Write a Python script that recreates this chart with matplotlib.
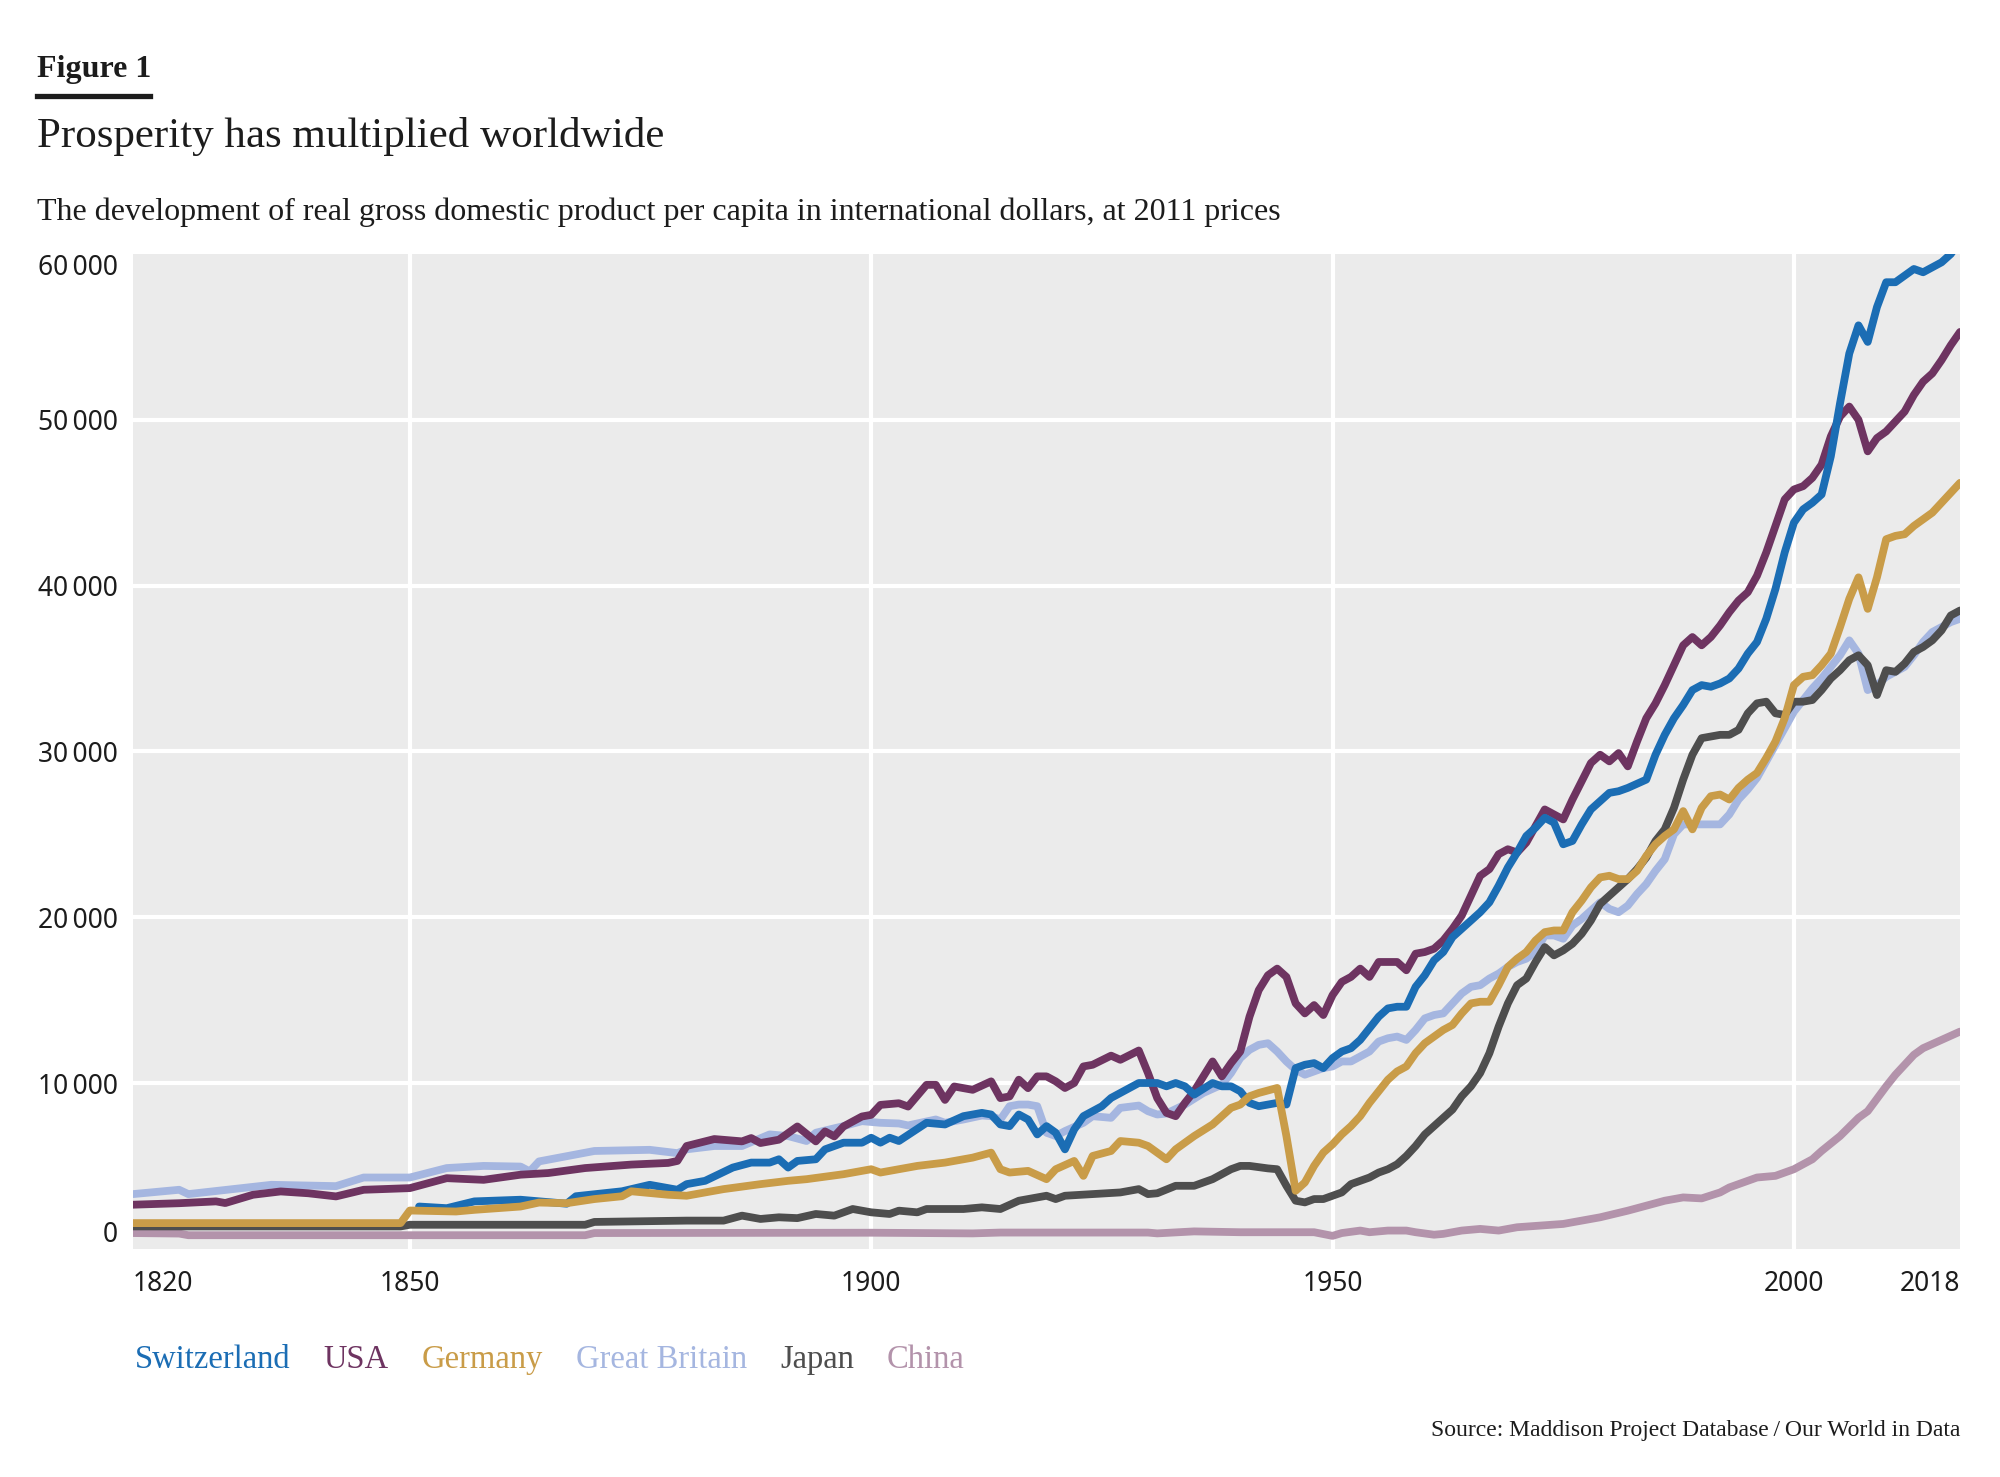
import matplotlib
matplotlib.use("Agg")
import matplotlib.pyplot as plt
from matplotlib.lines import Line2D

# GDP per capita, international dollars at 2011 prices
years_switzerland = [1851, 1854, 1857, 1862, 1867, 1868, 1873, 1876, 1879, 1880, 1882, 1885, 1887, 1889, 1890,
                     1891, 1892, 1894, 1895, 1897, 1899, 1900, 1901, 1902, 1903, 1906, 1908, 1910, 1912, 1913,
                     1914, 1915, 1916, 1917, 1918, 1919, 1920, 1921, 1922, 1923, 1925, 1926, 1928, 1929, 1931,
                     1932, 1933, 1934, 1935, 1937, 1938, 1939, 1940, 1941, 1942, 1944, 1945, 1946, 1947, 1948,
                     1949, 1950, 1951, 1952, 1953, 1954, 1955, 1956, 1957, 1958, 1959, 1960, 1961, 1962, 1963,
                     1964, 1965, 1966, 1967, 1968, 1969, 1970, 1971, 1972, 1973, 1974, 1975, 1976, 1977, 1978,
                     1980, 1981, 1982, 1984, 1985, 1986, 1987, 1988, 1989, 1990, 1991, 1992, 1993, 1994, 1995,
                     1996, 1997, 1998, 1999, 2000, 2001, 2002, 2003, 2004, 2005, 2006, 2007, 2008, 2009, 2010,
                     2011, 2012, 2013, 2014, 2015, 2016, 2017, 2018]
gdp_switzerland = [2550, 2450, 2860, 2960, 2720, 3170, 3470, 3860, 3560, 3900, 4100, 4900, 5200, 5200, 5400,
                   4900, 5300, 5400, 6000, 6400, 6400, 6700, 6400, 6700, 6500, 7600, 7500, 8000, 8200, 8100,
                   7500, 7400, 8100, 7800, 6900, 7400, 7000, 6000, 7200, 8000, 8600, 9100, 9700, 10000, 10000,
                   9800, 10000, 9800, 9300, 10000, 9800, 9800, 9500, 8800, 8600, 8800, 8700, 10900, 11100, 11200,
                   10900, 11500, 11900, 12100, 12600, 13300, 14000, 14500, 14600, 14600, 15800, 16500, 17400, 17900, 18800,
                   19300, 19800, 20300, 20900, 21900, 23000, 23900, 24900, 25400, 26000, 25700, 24400, 24600, 25600, 26500,
                   27500, 27600, 27800, 28300, 29800, 31000, 32000, 32800, 33700, 34000, 33900, 34100, 34400, 35000, 35900,
                   36600, 38000, 39800, 42000, 43800, 44600, 45000, 45500, 47800, 51000, 54000, 55700, 54700, 56800, 58300,
                   58300, 58700, 59100, 58900, 59200, 59500, 60000, 60800]

years_usa = [1820, 1825, 1829, 1830, 1833, 1836, 1839, 1842, 1845, 1850, 1854, 1858, 1862, 1865, 1869,
             1874, 1878, 1879, 1880, 1883, 1886, 1887, 1888, 1890, 1892, 1894, 1895, 1896, 1897, 1899,
             1900, 1901, 1903, 1904, 1906, 1907, 1908, 1909, 1911, 1913, 1914, 1915, 1916, 1917, 1918,
             1919, 1920, 1921, 1922, 1923, 1924, 1926, 1927, 1929, 1930, 1931, 1932, 1933, 1934, 1935,
             1936, 1937, 1938, 1939, 1940, 1941, 1942, 1943, 1944, 1945, 1946, 1947, 1948, 1949, 1950,
             1951, 1952, 1953, 1954, 1955, 1956, 1957, 1958, 1959, 1960, 1961, 1962, 1963, 1964, 1965,
             1966, 1967, 1968, 1969, 1970, 1971, 1972, 1973, 1974, 1975, 1976, 1977, 1978, 1979, 1980,
             1981, 1982, 1983, 1984, 1985, 1986, 1987, 1988, 1989, 1990, 1991, 1992, 1993, 1994, 1995,
             1996, 1997, 1998, 1999, 2000, 2001, 2002, 2003, 2004, 2005, 2006, 2007, 2008, 2009, 2010,
             2011, 2012, 2013, 2014, 2015, 2016, 2017, 2018]
gdp_usa = [2660, 2750, 2860, 2760, 3260, 3460, 3350, 3160, 3560, 3660, 4260, 4160, 4470, 4570, 4870,
           5080, 5180, 5300, 6200, 6620, 6480, 6680, 6380, 6580, 7380, 6480, 7080, 6780, 7380, 7980,
           8080, 8680, 8780, 8580, 9890, 9890, 8980, 9790, 9590, 10100, 9090, 9190, 10200, 9690, 10400,
           10400, 10100, 9700, 10000, 11000, 11100, 11650, 11400, 11960, 10600, 9090, 8200, 8000, 8800, 9500,
           10400, 11300, 10400, 11200, 11900, 14000, 15600, 16500, 16900, 16400, 14800, 14200, 14700, 14100, 15300,
           16100, 16400, 16900, 16400, 17300, 17300, 17300, 16800, 17800, 17900, 18100, 18600, 19300, 20100, 21300,
           22500, 22900, 23800, 24100, 23900, 24500, 25500, 26500, 26200, 25900, 27100, 28200, 29300, 29800, 29400,
           29900, 29100, 30600, 32000, 32900, 34000, 35200, 36400, 36900, 36400, 36900, 37600, 38400, 39100, 39600,
           40600, 42000, 43600, 45200, 45800, 46000, 46500, 47300, 49000, 50200, 50800, 50000, 48100, 48900, 49300,
           49900, 50500, 51500, 52300, 52800, 53600, 54500, 55300]

years_germany = [1820, 1849, 1850, 1855, 1857, 1862, 1864, 1867, 1870, 1873, 1874, 1878, 1880, 1884, 1888,
                 1891, 1893, 1897, 1900, 1901, 1903, 1905, 1908, 1911, 1913, 1914, 1915, 1917, 1919, 1920,
                 1922, 1923, 1924, 1926, 1927, 1929, 1930, 1932, 1933, 1935, 1937, 1939, 1940, 1941, 1942,
                 1944, 1945, 1946, 1947, 1948, 1949, 1950, 1951, 1952, 1953, 1954, 1955, 1956, 1957, 1958,
                 1959, 1960, 1961, 1962, 1963, 1964, 1965, 1966, 1967, 1968, 1969, 1970, 1971, 1972, 1973,
                 1974, 1975, 1976, 1977, 1978, 1979, 1980, 1981, 1982, 1983, 1984, 1985, 1986, 1987, 1988,
                 1989, 1990, 1991, 1992, 1993, 1994, 1995, 1996, 1997, 1998, 1999, 2000, 2001, 2002, 2003,
                 2004, 2005, 2006, 2007, 2008, 2009, 2010, 2011, 2012, 2013, 2014, 2015, 2016, 2017, 2018]
gdp_germany = [1550, 1550, 2310, 2250, 2350, 2550, 2790, 2750, 3000, 3170, 3470, 3260, 3200, 3600, 3900,
               4100, 4200, 4500, 4800, 4600, 4800, 5000, 5200, 5500, 5800, 4800, 4600, 4700, 4200, 4800,
               5300, 4400, 5600, 5900, 6500, 6400, 6200, 5400, 6000, 6800, 7500, 8500, 8700, 9200, 9400,
               9700, 6800, 3500, 4000, 5000, 5800, 6300, 6900, 7400, 8000, 8800, 9500, 10200, 10700, 11000,
               11800, 12400, 12800, 13200, 13500, 14200, 14800, 14900, 14900, 15900, 17000, 17500, 17900, 18600, 19100,
               19200, 19200, 20300, 21000, 21800, 22400, 22500, 22300, 22300, 22800, 23700, 24400, 24900, 25300, 26400,
               25300, 26600, 27300, 27400, 27100, 27800, 28300, 28700, 29600, 30600, 32000, 34000, 34500, 34600, 35200,
               35900, 37500, 39200, 40500, 38600, 40500, 42800, 43000, 43100, 43600, 44000, 44400, 45000, 45600, 46200]

years_britain = [1820, 1825, 1826, 1835, 1842, 1845, 1850, 1854, 1858, 1862, 1863, 1864, 1870, 1876, 1879,
                 1880, 1883, 1886, 1889, 1891, 1893, 1894, 1897, 1899, 1901, 1903, 1904, 1907, 1908, 1910,
                 1912, 1913, 1914, 1915, 1916, 1917, 1918, 1919, 1920, 1921, 1923, 1924, 1926, 1927, 1929,
                 1930, 1931, 1932, 1934, 1936, 1938, 1939, 1940, 1941, 1942, 1943, 1944, 1945, 1946, 1947,
                 1948, 1949, 1950, 1951, 1952, 1953, 1954, 1955, 1956, 1957, 1958, 1959, 1960, 1961, 1962,
                 1963, 1964, 1965, 1966, 1967, 1968, 1969, 1970, 1971, 1972, 1973, 1974, 1975, 1976, 1977,
                 1978, 1979, 1980, 1981, 1982, 1983, 1984, 1985, 1986, 1987, 1988, 1989, 1990, 1991, 1992,
                 1993, 1994, 1995, 1996, 1997, 1998, 1999, 2000, 2001, 2002, 2003, 2004, 2005, 2006, 2007,
                 2008, 2009, 2010, 2011, 2012, 2013, 2014, 2015, 2016, 2017, 2018]
gdp_britain = [3300, 3560, 3300, 3860, 3780, 4300, 4300, 4870, 5000, 4960, 4670, 5270, 5900, 5970, 5770,
               6000, 6200, 6200, 6900, 6800, 6500, 7000, 7400, 7700, 7600, 7560, 7440, 7800, 7600, 7800,
               8040, 8000, 7800, 8600, 8700, 8700, 8600, 7000, 6800, 7100, 7600, 8000, 7900, 8500, 8640,
               8300, 8100, 8160, 8700, 9400, 9900, 10600, 11500, 12000, 12300, 12400, 11900, 11300, 10800, 10500,
               10700, 10900, 11000, 11300, 11300, 11600, 11900, 12500, 12700, 12800, 12600, 13200, 13900, 14100, 14200,
               14800, 15400, 15800, 15900, 16300, 16600, 17000, 17300, 17500, 17900, 18900, 18900, 18700, 19500, 19900,
               20400, 20900, 20500, 20300, 20700, 21400, 22000, 22800, 23500, 25000, 25600, 25600, 25600, 25600, 25600,
               26200, 27100, 27700, 28400, 29400, 30400, 31400, 32400, 33100, 33800, 34400, 35100, 35800, 36700, 35900,
               33700, 34000, 34500, 34800, 35100, 35800, 36600, 37200, 37500, 37800, 38000]

years_japan = [1820, 1849, 1850, 1869, 1870, 1880, 1884, 1886, 1888, 1890, 1892, 1894, 1896, 1898, 1900,
               1902, 1903, 1905, 1906, 1910, 1912, 1914, 1916, 1918, 1919, 1920, 1921, 1924, 1927, 1929,
               1930, 1931, 1933, 1935, 1937, 1939, 1940, 1941, 1943, 1944, 1945, 1946, 1947, 1948, 1949,
               1950, 1951, 1952, 1953, 1954, 1955, 1956, 1957, 1958, 1959, 1960, 1961, 1962, 1963, 1964,
               1965, 1966, 1967, 1968, 1969, 1970, 1971, 1972, 1973, 1974, 1975, 1976, 1977, 1978, 1979,
               1980, 1981, 1982, 1983, 1984, 1985, 1986, 1987, 1988, 1989, 1990, 1991, 1992, 1993, 1994,
               1995, 1996, 1997, 1998, 1999, 2000, 2001, 2002, 2003, 2004, 2005, 2006, 2007, 2008, 2009,
               2010, 2011, 2012, 2013, 2014, 2015, 2016, 2017, 2018]
gdp_japan = [1350, 1350, 1450, 1450, 1620, 1700, 1700, 2000, 1800, 1900, 1850, 2100, 2000, 2400, 2200,
             2100, 2300, 2200, 2400, 2400, 2500, 2400, 2900, 3100, 3200, 3000, 3200, 3300, 3400, 3600,
             3300, 3350, 3800, 3800, 4200, 4800, 5000, 5000, 4850, 4800, 3800, 2900, 2800, 3000, 3000,
             3200, 3400, 3900, 4100, 4300, 4600, 4800, 5100, 5600, 6200, 6900, 7400, 7900, 8400, 9200,
             9800, 10600, 11800, 13400, 14800, 15900, 16300, 17300, 18200, 17700, 18000, 18400, 19000, 19800, 20800,
             21300, 21800, 22300, 22900, 23600, 24600, 25300, 26600, 28300, 29800, 30800, 30900, 31000, 31000, 31300,
             32300, 32900, 33000, 32300, 32200, 33000, 33000, 33100, 33700, 34400, 34900, 35500, 35800, 35200, 33400,
             34900, 34800, 35300, 36000, 36300, 36700, 37300, 38200, 38500]

years_china = [1820, 1825, 1826, 1869, 1870, 1900, 1911, 1914, 1930, 1931, 1935, 1940, 1948, 1950, 1951,
               1953, 1954, 1956, 1958, 1959, 1961, 1962, 1964, 1966, 1968, 1970, 1975, 1979, 1982, 1986,
               1988, 1990, 1992, 1993, 1995, 1996, 1998, 2000, 2002, 2003, 2005, 2007, 2008, 2010, 2011,
               2013, 2014, 2016, 2018]
gdp_china = [950, 920, 820, 820, 950, 970, 930, 980, 980, 930, 1050, 1000, 1000, 780, 950,
             1100, 1000, 1100, 1100, 1000, 850, 900, 1100, 1200, 1100, 1300, 1500, 1900, 2300, 2900,
             3100, 3040, 3400, 3700, 4100, 4300, 4400, 4800, 5400, 5900, 6800, 7900, 8300, 9800, 10500,
             11700, 12100, 12600, 13100]

countries = ["Switzerland", "USA", "Germany", "Great Britain", "Japan", "China"]
colors = ["#1b6db4", "#6e3461", "#c99c48", "#a5b6e0", "#4e4e4e", "#b393ab"]

y_ticks = [0, 10000, 20000, 30000, 40000, 50000, 60000]
x_ticks = [1820, 1850, 1900, 1950, 2000, 2018]

SERIF = ["Liberation Serif", "DejaVu Serif"]
SANS = ["Noto Sans", "Open Sans", "DejaVu Sans"]
TEXT = "#1c1c1c"

series = {
    "Switzerland": (years_switzerland, gdp_switzerland),
    "USA": (years_usa, gdp_usa),
    "Germany": (years_germany, gdp_germany),
    "Great Britain": (years_britain, gdp_britain),
    "Japan": (years_japan, gdp_japan),
    "China": (years_china, gdp_china),
}
col = dict(zip(countries, colors))

fig = plt.figure(figsize=(20, 14.77), dpi=100)
ax = fig.add_axes([0.0665, 0.1545, 0.9135, 0.6735])
ax.set_facecolor("#ebebeb")
for s in ax.spines.values():
    s.set_visible(False)

# grid lines only inside the frame
for x in x_ticks[1:-1]:
    ax.axvline(x, color="white", lw=3.0, zorder=1)
for y in y_ticks[1:-1]:
    ax.axhline(y, color="white", lw=3.0, zorder=1)

draw_order = ["China", "Great Britain", "Japan", "USA", "Switzerland", "Germany"]
for i, name in enumerate(draw_order):
    yrs, vals = series[name]
    ax.plot(yrs, vals, color=col[name], lw=5.6, solid_joinstyle="round",
            solid_capstyle="round", zorder=3 + i)

ax.set_xlim(1820, 2018)
ax.set_ylim(0, 60000)

ax.set_yticks(y_ticks)
ax.set_yticklabels([f"{v:,}".replace(",", "\u2009") for v in y_ticks])
ax.set_xticks(x_ticks)
ax.set_xticklabels([str(v) for v in x_ticks])
ax.tick_params(axis="both", length=0, labelsize=19, labelcolor=TEXT)
ax.tick_params(axis="y", pad=11)
ax.tick_params(axis="x", pad=15)
for lab in ax.get_yticklabels() + ax.get_xticklabels():
    lab.set_family(SANS)
    lab.set_fontweight("medium")
ylabs = ax.get_yticklabels()
ylabs[0].set_va("bottom")
ylabs[-1].set_va("top")
xlabs = ax.get_xticklabels()
xlabs[0].set_ha("left")
xlabs[-1].set_ha("right")

# header
fig.text(0.0185, 0.9479, "Figure 1", family=SERIF, fontweight="bold", fontsize=23,
         color=TEXT, va="baseline")
fig.add_artist(Line2D([0.0185, 0.075], [0.9347, 0.9347], color=TEXT, lw=3.8,
                      transform=fig.transFigure))
fig.text(0.0185, 0.9005, "Prosperity has multiplied worldwide", family=SERIF,
         fontsize=31, color=TEXT, va="baseline")
fig.text(0.0185, 0.851, "The development of real gross domestic product per capita in "
         "international dollars, at 2011 prices", family=SERIF, fontsize=23,
         color=TEXT, va="baseline")

# legend as coloured words
fig.canvas.draw()
renderer = fig.canvas.get_renderer()
fig_w = fig.bbox.width
x = 0.0675
for name in countries:
    t = fig.text(x, 0.0738, name, family=SERIF, fontsize=23.5, color=col[name],
                 va="baseline")
    bb = t.get_window_extent(renderer)
    x = (bb.x1 + 33) / fig_w

fig.text(0.98, 0.0278, "Source: Maddison Project Database\u2009/\u2009Our World in Data",
         family=SERIF, fontsize=17, color=TEXT, ha="right", va="baseline")

fig.savefig("out.png", dpi=100, facecolor="white")
